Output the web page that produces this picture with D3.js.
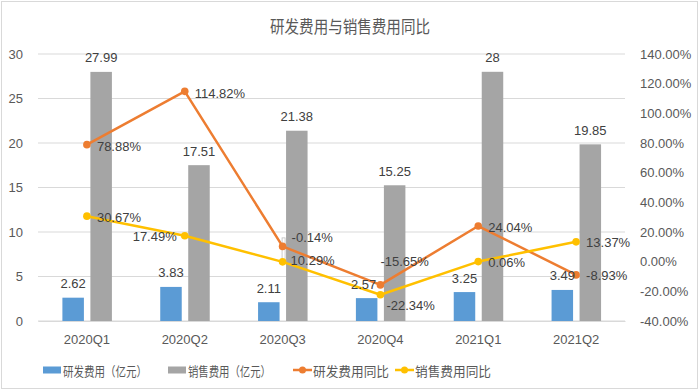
<!DOCTYPE html>
<html><head><meta charset="utf-8">
<script src="https://cdn.jsdelivr.net/npm/d3@7/dist/d3.min.js"></script>
<style>body{margin:0;background:#fff}svg{display:block}</style>
</head><body><svg id="c" width="700" height="391"></svg>
<script>
const title = "研发费用与销售费用同比";
const categories = ["2020Q1","2020Q2","2020Q3","2020Q4","2021Q1","2021Q2"];
const rdCost = [2.62, 3.83, 2.11, 2.57, 3.25, 3.49];
const salesCost = [27.99, 17.51, 21.38, 15.25, 28, 19.85];
const rdYoY = [78.88, 114.82, 10.29, -15.65, 24.04, -8.93];
const salesYoY = [30.67, 17.49, -0.14, -22.34, 0.06, 13.37];
const leftTicks = [0,5,10,15,20,25,30];
const rightTicks = [-40,-20,0,20,40,60,80,100,120,140];
const seriesNames = ["研发费用（亿元）","销售费用（亿元）","研发费用同比","销售费用同比"];

const C = {blue:"#5B9BD5", gray:"#A5A5A5", orange:"#ED7D31", yellow:"#FFC000", grid:"#D9D9D9", text:"#595959", label:"#404040"};
const FONT = "'Liberation Sans', Arial, sans-serif";
const CJK = "'Noto Sans CJK SC', sans-serif";

const svg = d3.select("#c");
svg.append("rect").attr("x",1.5).attr("y",1.5).attr("width",696).attr("height",387)
  .attr("fill","#fff").attr("stroke","#D9D9D9");

const L = 38, R = 625, T = 54, B = 321;
const x = d3.scaleBand().domain(categories).range([L,R]);
const x1 = d3.scaleBand().domain(["rd","sales"]).range([24.4, 73.9]).paddingInner(0.232);
const yL = d3.scaleLinear().domain([0,30]).range([B,T]);
const yR = d3.scaleLinear().domain([-40,140]).range([B,T]);
const cx = c => x(c) + x.bandwidth()/2;

// title
svg.append("text").attr("x",350).attr("y",25).attr("text-anchor","middle").attr("dominant-baseline","central")
  .attr("font-family",CJK).attr("font-size",17).attr("fill",C.text)
  .attr("textLength",160).attr("lengthAdjust","spacingAndGlyphs").text(title);

// grid
svg.append("g").selectAll("line").data(leftTicks).join("line")
  .attr("x1",L).attr("x2",R).attr("y1",d=>yL(d)).attr("y2",d=>yL(d))
  .attr("stroke",C.grid).attr("stroke-width",1);

// left axis
const gl = svg.append("g").attr("transform",`translate(${L},0)`)
  .call(d3.axisLeft(yL).tickValues(leftTicks).tickSize(0).tickPadding(15));
gl.select(".domain").remove();
gl.selectAll("text").attr("font-family",FONT).attr("font-size",13).attr("fill",C.text);

// right axis
const gr = svg.append("g").attr("transform",`translate(${R},0)`)
  .call(d3.axisRight(yR).tickValues(rightTicks).tickSize(0).tickPadding(15).tickFormat(d=>d.toFixed(2)+"%"));
gr.select(".domain").remove();
gr.selectAll("text").attr("font-family",FONT).attr("font-size",13).attr("fill",C.text);

// x axis
const gx = svg.append("g").attr("transform",`translate(0,${B})`)
  .call(d3.axisBottom(x).tickSize(0).tickPadding(14));
gx.select(".domain").attr("stroke",C.grid);
gx.selectAll("text").attr("font-family",FONT).attr("font-size",13).attr("fill",C.text);

// bars
const bars = svg.append("g");
bars.selectAll("rect.rd").data(categories).join("rect").attr("class","rd")
  .attr("x",c=>x(c)+x1("rd")).attr("width",x1.bandwidth())
  .attr("y",(c,i)=>yL(rdCost[i])).attr("height",(c,i)=>B-yL(rdCost[i])).attr("fill",C.blue);
bars.selectAll("rect.sa").data(categories).join("rect").attr("class","sa")
  .attr("x",c=>x(c)+x1("sales")).attr("width",x1.bandwidth())
  .attr("y",(c,i)=>yL(salesCost[i])).attr("height",(c,i)=>B-yL(salesCost[i])).attr("fill",C.gray);

// small leader box near 2020Q3
svg.append("rect").attr("x",cx(categories[2])-0.5).attr("y",yR(salesYoY[2])-24).attr("width",3).attr("height",23)
  .attr("fill","#fff").attr("stroke","#BFBFBF").attr("stroke-width",0.8);

// lines
function drawLine(vals,color){
  svg.append("path").datum(vals)
    .attr("d",d3.line().x((d,i)=>cx(categories[i])).y(d=>yR(d)))
    .attr("fill","none").attr("stroke",color).attr("stroke-width",2.5).attr("stroke-linejoin","round");
  svg.append("g").selectAll("circle").data(vals).join("circle")
    .attr("cx",(d,i)=>cx(categories[i])).attr("cy",d=>yR(d)).attr("r",3.8).attr("fill",color);
}
drawLine(rdYoY,C.orange);
drawLine(salesYoY,C.yellow);

// labels
const lab = svg.append("g").attr("font-family",FONT).attr("font-size",13).attr("fill",C.label);
function txt(xp,yp,s,anchor){
  lab.append("text").attr("x",xp).attr("y",yp).attr("text-anchor",anchor||"middle")
    .attr("dominant-baseline","central").text(s);
}
const fmt = v => String(v);
categories.forEach((c,i)=>{
  const bxr = x(c)+x1("rd")+x1.bandwidth()/2;
  const bxs = x(c)+x1("sales")+x1.bandwidth()/2;
  txt(bxr + (i===3?-3:0), yL(rdCost[i])-14, fmt(rdCost[i]));
  txt(bxs, yL(salesCost[i])-14, fmt(salesCost[i]));
});
// line label placement offsets [dx, dy, anchor]
const rdOff = [[10,2],[10,2],[8,14],[0,-23],[10,1],[10,1]];
const saOff = [[10,1],[-8,1,"end"],[9,-24],[6,11],[10,1],[10,1]];
categories.forEach((c,i)=>{
  const o = rdOff[i];
  txt(cx(c)+o[0], yR(rdYoY[i])+o[1], rdYoY[i].toFixed(2)+"%", o[2]||"start");
  const p = saOff[i];
  txt(cx(c)+p[0], yR(salesYoY[i])+p[1], salesYoY[i].toFixed(2)+"%", p[2]||"start");
});

// legend
const lg = svg.append("g");
const lx = [43,168,293,395], lw = [84,83,76,76];
const ly = 370;
seriesNames.forEach((n,i)=>{
  const g = lg.append("g").attr("transform",`translate(${lx[i]},${ly})`);
  if(i<2){
    g.append("rect").attr("x",0).attr("y",-3.5).attr("width",18).attr("height",7).attr("fill",i===0?C.blue:C.gray);
  } else {
    const col = i===2?C.orange:C.yellow;
    g.append("line").attr("x1",0).attr("x2",19).attr("y1",0).attr("y2",0).attr("stroke",col).attr("stroke-width",2.5);
    g.append("circle").attr("cx",9.5).attr("cy",0).attr("r",3.5).attr("fill",col);
  }
  g.append("text").attr("x",20).attr("y",0).attr("dominant-baseline","central")
    .attr("font-family",CJK).attr("font-size",13).attr("fill",C.text)
    .attr("textLength",lw[i]).attr("lengthAdjust","spacingAndGlyphs").text(n);
});
</script></body></html>
